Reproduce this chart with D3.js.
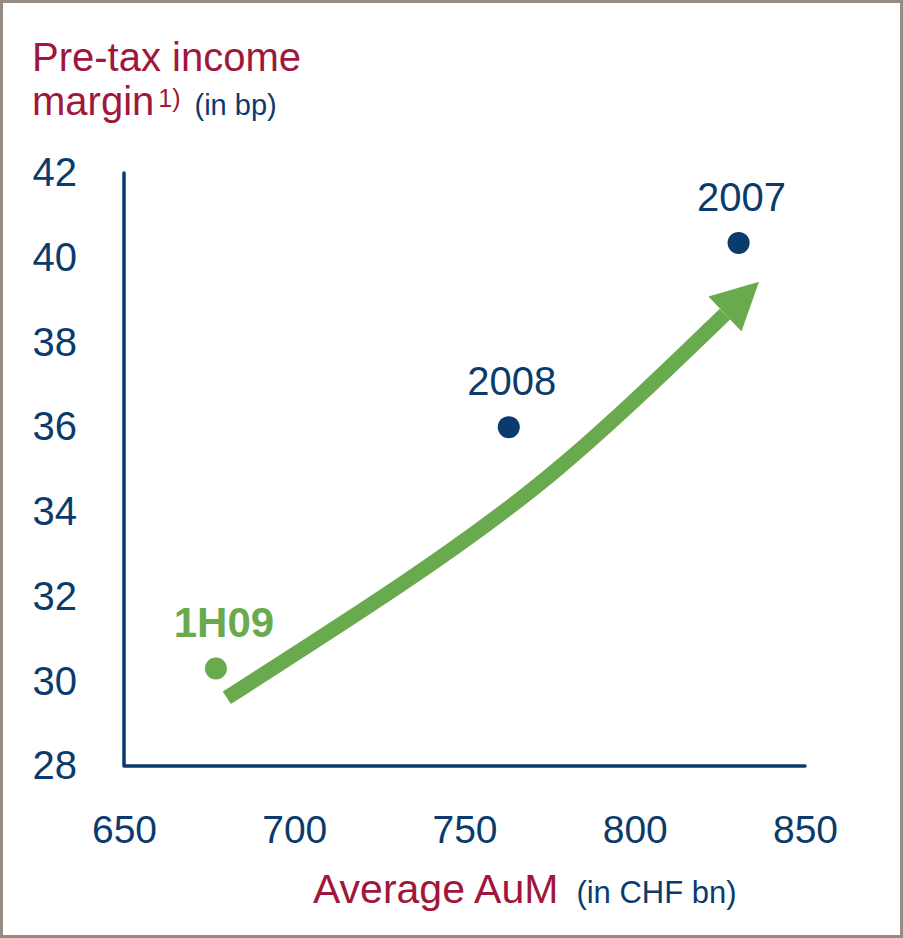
<!DOCTYPE html>
<meta charset="utf-8">
<script src="https://d3js.org/d3.v7.min.js"></script>
<style>
  body { margin: 0; background: #fff; }
  text { font-family: "Liberation Sans", Arial, Helvetica, sans-serif; }
</style>
<svg width="903" height="938"></svg>
<script>

    // data
    const labels = ["1H09", "2008", "2007"];
    const aum = [677, 763, 830.5];
    const margin = [30.3, 36.0, 40.35];
    const xTicks = [650, 700, 750, 800, 850];
    const yTicks = [28, 30, 32, 34, 36, 38, 40, 42];

    // trend arrow, in data units (AuM, margin)
    const arrowX = [680.2, 731.1, 778.0, 826.5];
    const arrowY = [29.61, 32.27, 35.06, 38.67];
    const arrowTip = [836.5, 39.43];

    const navy = '#0b3b6c',
        red = '#a0173b',
        green = '#6aaa4e';

    const svg = d3.select('svg')

    svg.append('rect')
        .attr('x', 1.5).attr('y', 1.5)
        .attr('width', 900).attr('height', 935)
        .attr('fill', '#fff')
        .attr('stroke', '#968c84')
        .attr('stroke-width', 3)

    const xScale = d3.scaleLinear()
        .domain([650, 850])
        .range([124, 805])

    const yScale = d3.scaleLinear()
        .domain([28, 42])
        .range([766, 173])

    // axes (labels only, lines drawn by hand)
    const yAxis = svg.append('g')
        .attr('transform', 'translate(' + xScale(650) + ',0)')
        .call(d3.axisLeft(yScale).tickValues(yTicks).tickSize(0).tickPadding(47))
    yAxis.select('.domain').remove()
    yAxis.selectAll('text')
        .attr('fill', navy)
        .style('font-size', '40px')
        .style('font-family', '"Liberation Sans", Arial, sans-serif')

    const xAxis = svg.append('g')
        .attr('transform', 'translate(0,' + yScale(28) + ')')
        .call(d3.axisBottom(xScale).tickValues(xTicks).tickSize(0).tickPadding(49))
    xAxis.select('.domain').remove()
    xAxis.selectAll('text')
        .attr('fill', navy)
        .style('font-size', '39px')
        .style('font-family', '"Liberation Sans", Arial, sans-serif')

    svg.append('path')
        .attr('d', 'M' + xScale(650) + ',' + yScale(42) + 'V' + yScale(28) + 'H' + xScale(850))
        .attr('fill', 'none')
        .attr('stroke', navy)
        .attr('stroke-width', 3.5)
        .attr('stroke-linecap', 'round')
        .attr('stroke-linejoin', 'round')

    // trend arrow
    const line = d3.line()
        .x(d => xScale(d[0]))
        .y(d => yScale(d[1]))
        .curve(d3.curveNatural)

    const shaft = arrowX.map((x, i) => [x, arrowY[i]])
    svg.append('path')
        .attr('d', line(shaft))
        .attr('fill', 'none')
        .attr('stroke', green)
        .attr('stroke-width', 15)

    const bx = xScale(shaft[shaft.length - 1][0]),
        by = yScale(shaft[shaft.length - 1][1]),
        tx = xScale(arrowTip[0]),
        ty = yScale(arrowTip[1])
    const len = Math.hypot(tx - bx, ty - by)
    const ux = (tx - bx) / len, uy = (ty - by) / len
    const half = 24
    svg.append('path')
        .attr('d', 'M' + tx + ',' + ty +
            'L' + (bx - uy * half) + ',' + (by + ux * half) +
            'L' + (bx + uy * half) + ',' + (by - ux * half) + 'Z')
        .attr('fill', green)

    // points
    const pts = labels.map((l, i) => ({label: l, x: aum[i], y: margin[i]}))

    svg.selectAll('circle.pt')
        .data(pts)
        .enter().append('circle')
        .attr('class', 'pt')
        .attr('cx', d => xScale(d.x))
        .attr('cy', d => yScale(d.y))
        .attr('r', 11)
        .attr('fill', d => d.label === '1H09' ? green : navy)

    svg.selectAll('text.pt-label')
        .data(pts)
        .enter().append('text')
        .attr('class', 'pt-label')
        .attr('text-anchor', 'middle')
        .attr('x', d => xScale(d.x) + (d.label === '1H09' ? 8 : 3))
        .attr('y', d => yScale(d.y) - 32)
        .attr('fill', d => d.label === '1H09' ? green : navy)
        .style('font-weight', d => d.label === '1H09' ? 'bold' : 'normal')
        .style('font-size', d => d.label === '1H09' ? '42px' : '40px')
        .text(d => d.label)

    // axis titles
    svg.append('text')
        .attr('x', 32).attr('y', 71)
        .attr('fill', red)
        .style('font-size', '40px')
        .text('Pre-tax income')

    const t2 = svg.append('text')
        .attr('x', 32).attr('y', 115)
        .attr('fill', red)
        .style('font-size', '40px')
    t2.append('tspan').text('margin')
    t2.append('tspan').attr('dx', 4).attr('dy', -8).style('font-size', '25px').text('1)')
    t2.append('tspan').attr('dx', 14).attr('dy', 8).attr('fill', navy).style('font-size', '29px').text('(in bp)')

    const t3 = svg.append('text')
        .attr('x', 313).attr('y', 903)
        .attr('fill', red)
        .style('font-size', '41px')
    t3.append('tspan').text('Average AuM')
    t3.append('tspan').attr('dx', 18).attr('fill', navy).style('font-size', '31px').text('(in CHF bn)')

</script>
